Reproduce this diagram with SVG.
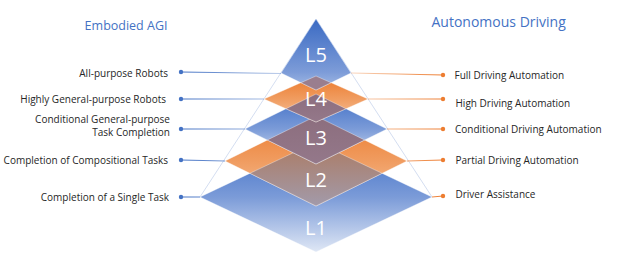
<svg xmlns="http://www.w3.org/2000/svg" width="618" height="260" viewBox="0 0 618 260">
<defs>
<style>
.lbl{font-family:"Open Sans","Noto Sans",sans-serif;font-size:10px;fill:#262626}
.ttl{font-family:"Open Sans","Noto Sans",sans-serif;fill:#4472C4}
.lv{font-family:"Open Sans","Noto Sans",sans-serif;font-size:20px;fill:#ffffff;text-anchor:middle}
.edge{stroke:#ffffff;stroke-opacity:0.45;stroke-width:0.8}
.cl{fill:none;stroke-width:1}
.dl{fill:#4472C4}
.dr{fill:#ED7D31}
</style>
<linearGradient id="gBlue1" x1="0" y1="0" x2="0" y2="1">
<stop offset="0" stop-color="#3e6ec6"/>
<stop offset="0.5" stop-color="#7b9bd8"/>
<stop offset="1" stop-color="#dfe7f5"/>
</linearGradient>
<linearGradient id="gBlue5" x1="0" y1="0" x2="0" y2="1">
<stop offset="0" stop-color="#3a6ac3"/>
<stop offset="0.75" stop-color="#7d9cd8"/>
<stop offset="1" stop-color="#a6bde6"/>
</linearGradient>
<linearGradient id="gOrange" x1="0" y1="0" x2="0" y2="1">
<stop offset="0" stop-color="#ec7a2c"/>
<stop offset="0.5" stop-color="#f09c60"/>
<stop offset="1" stop-color="#f6c4a0"/>
</linearGradient>
<linearGradient id="gOv12" x1="0" y1="0" x2="0" y2="1">
<stop offset="0" stop-color="#ac7a62"/>
<stop offset="1" stop-color="#a29aaa"/>
</linearGradient>
<linearGradient id="gOvM" x1="0" y1="0" x2="0" y2="1">
<stop offset="0" stop-color="#8c6e7e"/>
<stop offset="1" stop-color="#94788a"/>
</linearGradient>
<linearGradient id="gLineL" gradientUnits="userSpaceOnUse" x1="181" y1="0" x2="285" y2="0">
<stop offset="0" stop-color="#4472C4"/>
<stop offset="1" stop-color="#4472C4" stop-opacity="0.35"/>
</linearGradient>
<linearGradient id="gLineR" gradientUnits="userSpaceOnUse" x1="443" y1="0" x2="350" y2="0">
<stop offset="0" stop-color="#ED7D31"/>
<stop offset="1" stop-color="#ED7D31" stop-opacity="0.3"/>
</linearGradient>
</defs>
<rect width="618" height="260" fill="#ffffff"/>

<g id="pyramid-outline">
<polyline points="200,197 316,19 432,197" fill="none" stroke="#d4def1" stroke-width="1"/>
</g>

<g id="layer-L1">
<polygon class="edge" points="200,197 316,142 432,197 316,252" fill="url(#gBlue1)"/>
<text class="lv" x="316" y="235">L1</text>
</g>

<g id="layer-L2">
<polygon class="edge" points="225,161 316,116 407,161 316,206" fill="url(#gOrange)"/>
<polygon class="edge" points="316,142 382.1,173.3 316,206 249.9,173.3" fill="url(#gOv12)"/>
<text class="lv" x="316" y="187">L2</text>
</g>

<g id="layer-L3">
<polygon class="edge" points="245,129 316,94 387,129 316,164" fill="url(#gBlue1)"/>
<polygon class="edge" points="316,116 364.6,140 316,164 267.4,140" fill="url(#gOvM)"/>
<text class="lv" x="316" y="145">L3</text>
</g>

<g id="layer-L4">
<polygon class="edge" points="264,99 316,76 368,99 316,122" fill="url(#gOrange)"/>
<polygon class="edge" points="316,94 345.95,108.75 316,122 286.05,108.75" fill="url(#gOvM)"/>
<text class="lv" x="316" y="106">L4</text>
</g>

<g id="layer-L5">
<polygon class="edge" points="316,19 351,73 316,90 281,73" fill="url(#gBlue5)"/>
<polygon class="edge" points="316,76 331.08,82.68 316,90 300.92,82.68" fill="#9a7e8e"/>
<text class="lv" x="316" y="62">L5</text>
</g>

<g id="connectors">
<line class="cl" stroke="url(#gLineL)" x1="181" y1="72" x2="281" y2="73.5"/>
<line class="cl" stroke="url(#gLineL)" x1="181" y1="99" x2="264" y2="99"/>
<line class="cl" stroke="url(#gLineL)" x1="181" y1="129" x2="245" y2="129"/>
<line class="cl" stroke="url(#gLineL)" x1="181" y1="160" x2="225" y2="161"/>
<line class="cl" stroke="url(#gLineL)" x1="181" y1="197" x2="200" y2="197"/>
<line class="cl" stroke="url(#gLineR)" x1="351" y1="73" x2="443" y2="75"/>
<line class="cl" stroke="url(#gLineR)" x1="368" y1="99" x2="443" y2="99"/>
<line class="cl" stroke="url(#gLineR)" x1="387" y1="129" x2="443" y2="129"/>
<line class="cl" stroke="url(#gLineR)" x1="407" y1="161" x2="443" y2="160"/>
<line class="cl" stroke="url(#gLineR)" x1="432" y1="197" x2="443" y2="196"/>
<circle class="dl" cx="181" cy="72" r="2.2"/>
<circle class="dl" cx="181" cy="99" r="2.2"/>
<circle class="dl" cx="181" cy="129" r="2.2"/>
<circle class="dl" cx="181" cy="160" r="2.2"/>
<circle class="dl" cx="181" cy="197" r="2.2"/>
<circle class="dr" cx="443" cy="75" r="2.2"/>
<circle class="dr" cx="443" cy="99" r="2.2"/>
<circle class="dr" cx="443" cy="129" r="2.2"/>
<circle class="dr" cx="443" cy="160" r="2.2"/>
<circle class="dr" cx="443" cy="196" r="2.2"/>
</g>

<g id="title-embodied"><text class="ttl" x="167.5" y="29.5" font-size="12.5" text-anchor="end">Embodied AGI</text></g>
<g id="title-driving"><text class="ttl" x="431.5" y="26.5" font-size="14">Autonomous Driving</text></g>

<g id="label-left-5"><text class="lbl" x="168" y="76.5" text-anchor="end">All-purpose Robots</text></g>
<g id="label-left-4"><text class="lbl" x="166" y="102.5" text-anchor="end">Highly General-purpose Robots</text></g>
<g id="label-left-3"><text class="lbl" text-anchor="end"><tspan x="170" y="122.5">Conditional General-purpose</tspan><tspan x="170" y="135.5">Task Completion</tspan></text></g>
<g id="label-left-2"><text class="lbl" x="168" y="164" text-anchor="end">Completion of Compositional Tasks</text></g>
<g id="label-left-1"><text class="lbl" x="169" y="201" text-anchor="end">Completion of a Single Task</text></g>

<g id="label-right-5"><text class="lbl" x="454.5" y="79">Full Driving Automation</text></g>
<g id="label-right-4"><text class="lbl" x="455.5" y="106.5">High Driving Automation</text></g>
<g id="label-right-3"><text class="lbl" x="455" y="132.5">Conditional Driving Automation</text></g>
<g id="label-right-2"><text class="lbl" x="455.5" y="164">Partial Driving Automation</text></g>
<g id="label-right-1"><text class="lbl" x="455.5" y="198">Driver Assistance</text></g>
</svg>
